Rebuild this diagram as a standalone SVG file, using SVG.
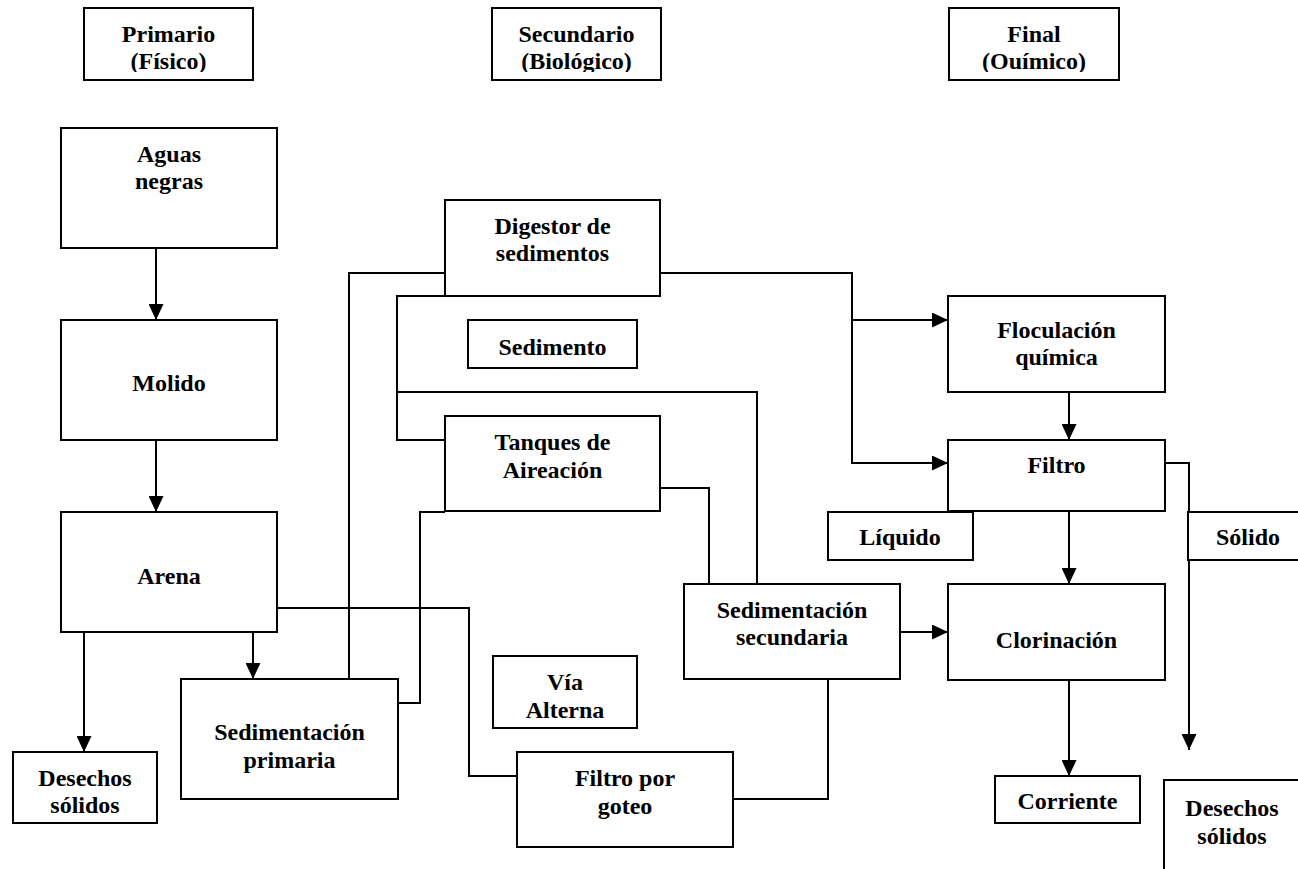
<svg xmlns="http://www.w3.org/2000/svg" width="1298" height="869" viewBox="0 0 1298 869">
<style>
rect.b{fill:#fff;stroke:#000;stroke-width:2}
text{font-family:"Liberation Serif","Times New Roman",serif;font-weight:bold;font-size:24px;text-anchor:middle;fill:#000}
.c path{fill:none;stroke:#000;stroke-width:2}
</style>
<defs>
<marker id="ah" markerUnits="userSpaceOnUse" markerWidth="16" markerHeight="15" refX="16" refY="7.5" orient="auto"><path d="M0,0 L16,7.5 L0,15 z" fill="#000"/></marker>
<clipPath id="h1"><rect x="84" y="8" width="169" height="64"/></clipPath>
<clipPath id="h2"><rect x="492" y="8" width="169" height="64"/></clipPath>
<clipPath id="h3"><rect x="949" y="8" width="170" height="64"/></clipPath>
</defs>
<g class="c" id="connectors">
<path d="M156,248 V320" marker-end="url(#ah)"/>
<path d="M156,440 V512" marker-end="url(#ah)"/>
<path d="M84,632 V752" marker-end="url(#ah)"/>
<path d="M253,632 V679" marker-end="url(#ah)"/>
<path d="M277,608 H469 V776 H517"/>
<path d="M349,679 V273 H445"/>
<path d="M398,703 H420 V512 H445"/>
<path d="M445,296 H397 V440 H445"/>
<path d="M397,392 H757 V584"/>
<path d="M660,488 H709 V584"/>
<path d="M660,273 H852 V463 H948" marker-end="url(#ah)"/>
<path d="M852,320 H948" marker-end="url(#ah)"/>
<path d="M1069,392 V440" marker-end="url(#ah)"/>
<path d="M1069,511 V584" marker-end="url(#ah)"/>
<path d="M1165,463 H1189 V750" marker-end="url(#ah)"/>
<path d="M900,632 H948" marker-end="url(#ah)"/>
<path d="M1069,680 V776" marker-end="url(#ah)"/>
<path d="M733,799 H828 V679"/>
</g>
<g id="primario"><rect class="b" x="84" y="8" width="169" height="72"/><g clip-path="url(#h1)"><text x="168.5" y="42">Primario</text><text x="168.5" y="69">(Físico)</text></g></g>
<g id="secundario"><rect class="b" x="492" y="8" width="169" height="72"/><g clip-path="url(#h2)"><text x="576.5" y="42">Secundario</text><text x="576.5" y="69">(Biológico)</text></g></g>
<g id="final"><rect class="b" x="949" y="8" width="170" height="72"/><g clip-path="url(#h3)"><text x="1034" y="42">Final</text><text x="1034" y="69">(Ouímico)</text></g></g>
<g id="aguas"><rect class="b" x="61" y="128" width="216" height="120"/><text x="169" y="162">Aguas</text><text x="169" y="189">negras</text></g>
<g id="molido"><rect class="b" x="61" y="320" width="216" height="120"/><text x="169" y="391">Molido</text></g>
<g id="arena"><rect class="b" x="61" y="512" width="216" height="120"/><text x="169" y="584">Arena</text></g>
<g id="desechos1"><rect class="b" x="13" y="752" width="144" height="71"/><text x="85" y="786">Desechos</text><text x="85" y="813">sólidos</text></g>
<g id="sedprim"><rect class="b" x="181" y="679" width="217" height="120"/><text x="289.5" y="740">Sedimentación</text><text x="289.5" y="768">primaria</text></g>
<g id="digestor"><rect class="b" x="445" y="200" width="215" height="96"/><text x="552.5" y="234">Digestor de</text><text x="552.5" y="261">sedimentos</text></g>
<g id="sedimento"><rect class="b" x="468" y="320" width="169" height="48"/><text x="552.5" y="355">Sedimento</text></g>
<g id="tanques"><rect class="b" x="445" y="416" width="215" height="95"/><text x="552.5" y="450">Tanques de</text><text x="552.5" y="478">Aireación</text></g>
<g id="via"><rect class="b" x="493" y="656" width="144" height="72"/><text x="565" y="690">Vía</text><text x="565" y="718">Alterna</text></g>
<g id="goteo"><rect class="b" x="517" y="752" width="216" height="95"/><text x="625" y="786">Filtro por</text><text x="625" y="814">goteo</text></g>
<g id="sedsec"><rect class="b" x="684" y="584" width="216" height="95"/><text x="792" y="618">Sedimentación</text><text x="792" y="645">secundaria</text></g>
<g id="floculacion"><rect class="b" x="948" y="296" width="217" height="96"/><text x="1056.5" y="338">Floculación</text><text x="1056.5" y="365">química</text></g>
<g id="filtro"><rect class="b" x="948" y="440" width="217" height="71"/><text x="1056.5" y="473">Filtro</text></g>
<g id="liquido"><rect class="b" x="828" y="512" width="145" height="48"/><text x="900" y="545">Líquido</text></g>
<g id="solido"><rect class="b" x="1188" y="512" width="122" height="48"/><text x="1248" y="545">Sólido</text></g>
<g id="clorinacion"><rect class="b" x="948" y="584" width="217" height="96"/><text x="1056.5" y="648">Clorinación</text></g>
<g id="corriente"><rect class="b" x="995" y="776" width="145" height="47"/><text x="1067.5" y="809">Corriente</text></g>
<g id="desechos2"><rect class="b" x="1164" y="780" width="136" height="100"/><text x="1232" y="816">Desechos</text><text x="1232" y="844">sólidos</text></g>
</svg>
